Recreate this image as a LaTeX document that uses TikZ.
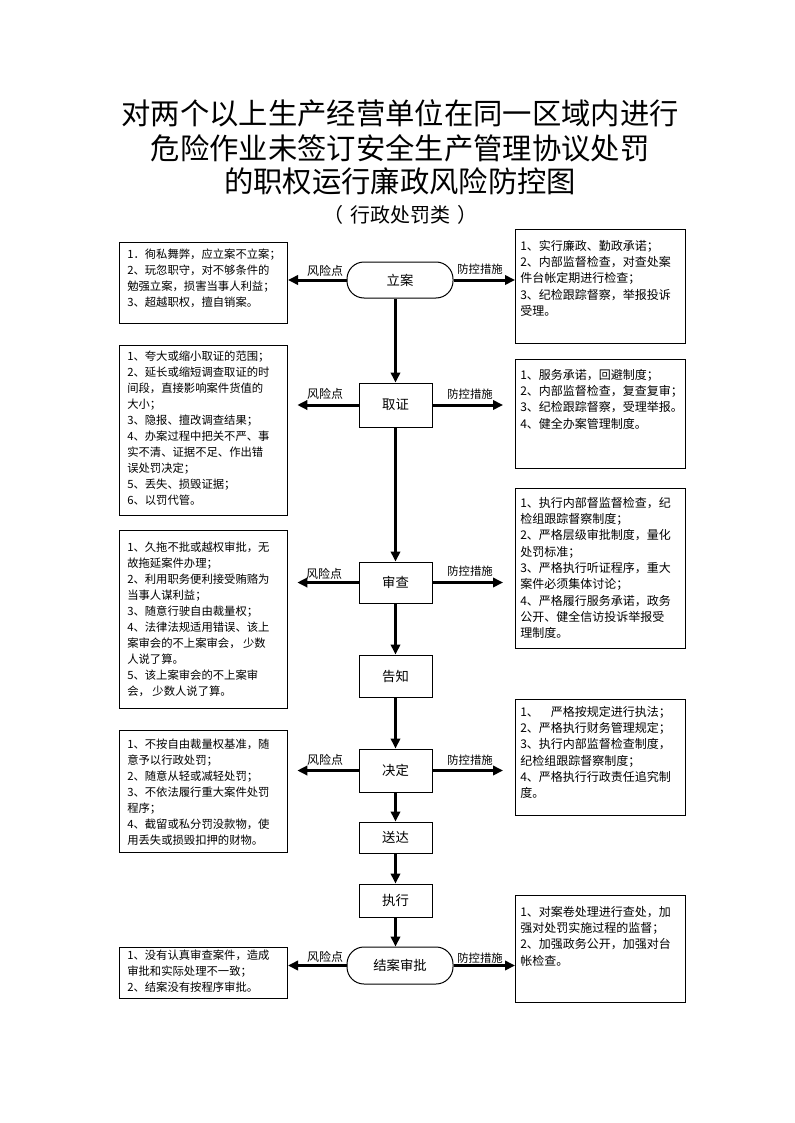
\documentclass[tikz,border=0pt]{standalone}
\usepackage{fontspec}
\setmainfont{Noto Sans CJK SC}
\usetikzlibrary{arrows.meta}
\begin{document}
\begin{tikzpicture}[x=0.75pt,y=-0.75pt,
  frame/.style={draw, line width=0.75pt, inner sep=0pt, anchor=north west},
  ltxt/.style={anchor=north west, inner sep=0pt, align=left, font=\fontsize{8.5}{12}\selectfont},
  rtxt/.style={anchor=north west, inner sep=0pt, align=left, font=\fontsize{9}{12.2}\selectfont},
  stage/.style={draw, line width=0.75pt, minimum width=73*0.75pt, inner sep=0pt, font=\fontsize{10}{12}\selectfont},
  stadium/.style={draw, line width=0.75pt, rounded corners=17*0.75pt, minimum width=106*0.75pt, minimum height=36*0.75pt, inner sep=0pt, font=\fontsize{10}{12}\selectfont},
  flow/.style={line width=2.25pt, -{Triangle[length=7.5pt,width=7pt]}},
  rlab/.style={inner sep=0pt, font=\fontsize{9}{10}\selectfont},
  clab/.style={inner sep=0pt, font=\fontsize{8.5}{10}\selectfont}]
\useasboundingbox (0,0) rectangle (794,1123);

% title
\node[font=\fontsize{22}{25}\selectfont] (t1) at (400,113) {对两个以上生产经营单位在同一区域内进行};
\node[font=\fontsize{22}{25}\selectfont] (t2) at (400,148) {危险作业未签订安全生产管理协议处罚};
\node[font=\fontsize{22}{25}\selectfont] (t3) at (400,181) {的职权运行廉政风险防控图};
\node[font=\fontsize{15}{18}\selectfont] (t4) at (400,215) {（\hspace{0.35em}行政处罚类\hspace{0.35em}）};

% stage nodes
\node[stadium] (la) at (400,280) {立案};
\node[stage, minimum height=44*0.75pt] (qz) at (395.5,405) {取证};
\node[stage, minimum height=41*0.75pt] (sc) at (395.5,582.5) {审查};
\node[stage, minimum height=42*0.75pt] (gz) at (395.5,676) {告知};
\node[stage, minimum height=43*0.75pt] (jd) at (395.5,770.5) {决定};
\node[stage, minimum height=31*0.75pt] (sd) at (395.5,837.5) {送达};
\node[stage, minimum height=33*0.75pt] (zx) at (395.5,900.5) {执行};
\node[stadium, minimum height=37*0.75pt] (ja) at (400,965.5) {结案审批};

% left frames
\node[frame, minimum width=168*0.75pt, minimum height=81*0.75pt] (L1) at (119,242) {};
\node[ltxt] (L1t) at (127,249) {1．徇私舞弊，应立案不立案；\\2、玩忽职守，对不够条件的\\勉强立案，损害当事人利益；\\3、超越职权，擅自销案。};

\node[frame, minimum width=168*0.75pt, minimum height=170*0.75pt] (L2) at (119,345) {};
\node[ltxt] (L2t) at (127,351) {1、夸大或缩小取证的范围；\\2、延长或缩短调查取证的时\\间段，直接影响案件货值的\\大小；\\3、隐报、擅改调查结果；\\4、办案过程中把关不严、事\\实不清、证据不足、作出错\\误处罚决定；\\5、丢失、损毁证据；\\6、以罚代管。};

\node[frame, minimum width=168*0.75pt, minimum height=178*0.75pt] (L3) at (119,530) {};
\node[ltxt] (L3t) at (127,542) {1、久拖不批或越权审批，无\\故拖延案件办理；\\2、利用职务便利接受贿赂为\\当事人谋利益；\\3、随意行驶自由裁量权；\\4、法律法规适用错误、该上\\案审会的不上案审会， 少数\\人说了算。\\5、该上案审会的不上案审\\会， 少数人说了算。};

\node[frame, minimum width=168*0.75pt, minimum height=122*0.75pt] (L4) at (119,730) {};
\node[ltxt] (L4t) at (127,739) {1、不按自由裁量权基准，随\\意予以行政处罚；\\2、随意从轻或减轻处罚；\\3、不依法履行重大案件处罚\\程序；\\4、截留或私分罚没款物，使\\用丢失或损毁扣押的财物。};

\node[frame, minimum width=168*0.75pt, minimum height=51*0.75pt] (L5) at (119,947) {};
\node[ltxt] (L5t) at (127,950) {1、没有认真审查案件，造成\\审批和实际处理不一致；\\2、结案没有按程序审批。};

% right frames
\node[frame, minimum width=170*0.75pt, minimum height=114*0.75pt] (R1) at (515,229) {};
\node[rtxt] (R1t) at (520,240) {1、实行廉政、勤政承诺；\\2、内部监督检查，对查处案\\件台帐定期进行检查；\\3、纪检跟踪督察，举报投诉\\受理。};

\node[frame, minimum width=170*0.75pt, minimum height=109*0.75pt] (R2) at (515,359) {};
\node[rtxt] (R2t) at (520,369) {1、服务承诺，回避制度；\\2、内部监督检查，复查复审；\\3、纪检跟踪督察，受理举报。\\4、健全办案管理制度。};

\node[frame, minimum width=170*0.75pt, minimum height=160*0.75pt] (R3) at (515,488) {};
\node[rtxt] (R3t) at (520,497) {1、执行内部督监督检查，纪\\检组跟踪督察制度；\\2、严格层级审批制度，量化\\处罚标准；\\3、严格执行听证程序，重大\\案件必须集体讨论；\\4、严格履行服务承诺，政务\\公开、健全信访投诉举报受\\理制度。};

\node[frame, minimum width=170*0.75pt, minimum height=116*0.75pt] (R4) at (515,699) {};
\node[rtxt] (R4t) at (520,706) {1、\quad 严格按规定进行执法；\\2、严格执行财务管理规定；\\3、执行内部监督检查制度，\\纪检组跟踪督察制度；\\4、严格执行行政责任追究制\\度。};

\node[frame, minimum width=170*0.75pt, minimum height=107*0.75pt] (R5) at (515,895) {};
\node[rtxt] (R5t) at (520,906) {1、对案卷处理进行查处，加\\强对处罚实施过程的监督；\\2、加强政务公开，加强对台\\帐检查。};

% vertical flow
\draw[flow] (la.south -| qz.north) -- (qz.north);
\draw[flow] (qz.south) -- (sc.north);
\draw[flow] (sc.south) -- (gz.north);
\draw[flow] (gz.south) -- (jd.north);
\draw[flow] (jd.south) -- (sd.north);
\draw[flow] (sd.south) -- (zx.north);
\draw[flow] (zx.south) -- (zx.south |- ja.north);

% horizontal arrows
\draw[flow] (la.west) -- (L1.east |- la.west);
\draw[flow] (la.east) -- (R1.west |- la.east);
\draw[flow, shorten >=7pt] (qz.west) -- (qz.west -| L2.east);
\draw[flow, shorten >=9pt] (qz.east) -- (qz.east -| R2.west);
\draw[flow, shorten >=7pt] (sc.west) -- (sc.west -| L3.east);
\draw[flow, shorten >=9pt] (sc.east) -- (sc.east -| R3.west);
\draw[flow, shorten >=7pt] (jd.west) -- (jd.west -| L4.east);
\draw[flow, shorten >=9pt] (jd.east) -- (jd.east -| R4.west);
\draw[flow] (ja.west) -- (L5.east |- ja.west);
\draw[flow] (ja.east) -- (R5.west |- ja.east);

% arrow labels
\node[rlab] (a1) at (325,271) {风险点};
\node[clab] (b1) at (480,269) {防控措施};
\node[rlab] (a2) at (325,394) {风险点};
\node[clab] (b2) at (470,394) {防控措施};
\node[rlab] (a3) at (324,574) {风险点};
\node[clab] (b3) at (470,571) {防控措施};
\node[rlab] (a4) at (325,760) {风险点};
\node[clab] (b4) at (470,760) {防控措施};
\node[rlab] (a5) at (325,957) {风险点};
\node[clab] (b5) at (480,958) {防控措施};
\end{tikzpicture}
\end{document}
